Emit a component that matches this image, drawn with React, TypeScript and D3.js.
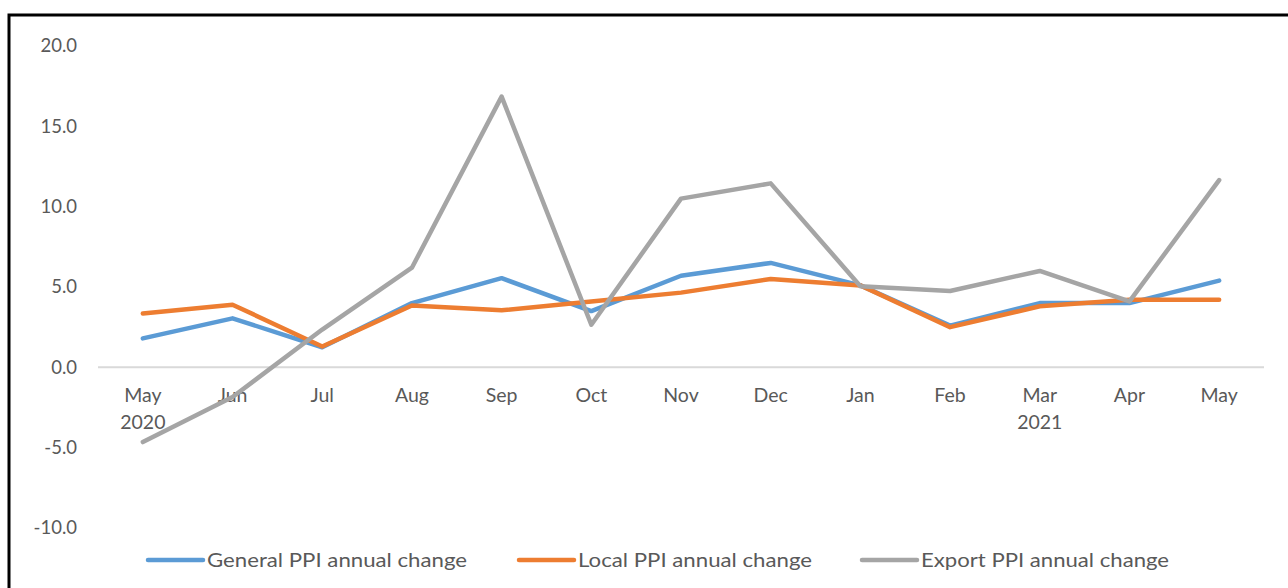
import React, { useEffect, useRef } from "react";
import * as d3 from "d3";

const months = ["May", "Jun", "Jul", "Aug", "Sep", "Oct", "Nov", "Dec", "Jan", "Feb", "Mar", "Apr", "May"];
const years = ["2020", "", "", "", "", "", "", "", "", "", "2021", "", ""];
const yTicks = [-10, -5, 0, 5, 10, 15, 20];

const generalPPI = [1.8, 3.05, 1.25, 4.0, 5.55, 3.5, 5.7, 6.5, 5.1, 2.6, 4.0, 4.0, 5.4];
const localPPI = [3.35, 3.9, 1.3, 3.85, 3.55, 4.1, 4.65, 5.5, 5.1, 2.5, 3.8, 4.2, 4.2];
const exportPPI = [-4.65, -1.85, 2.35, 6.2, 16.85, 2.65, 10.5, 11.45, 5.05, 4.75, 6.0, 4.1, 11.65];

const seriesNames = ["General PPI annual change", "Local PPI annual change", "Export PPI annual change"];
const seriesColors = ["#5b9bd5", "#ed7d31", "#a5a5a5"];

export default function App() {
  const ref = useRef<SVGSVGElement>(null);

  useEffect(() => {
    const svg = d3.select(ref.current);
    svg.selectAll("*").remove();

    const font = "Lato, 'Open Sans', sans-serif";
    const textColor = "#595959";

    // frame (only left and top edges are visible)
    svg.append("path")
      .attr("d", "M9,588 L9,15 L1288,15")
      .attr("fill", "none")
      .attr("stroke", "#000")
      .attr("stroke-width", 3);

    const x = d3.scaleBand<number>()
      .domain(d3.range(months.length))
      .range([98, 1264]);

    const y = d3.scaleLinear().domain([-10, 20]).range([528, 46]);

    // zero line
    svg.append("line")
      .attr("x1", 98).attr("x2", 1264)
      .attr("y1", y(0)).attr("y2", y(0))
      .attr("stroke", "#d9d9d9")
      .attr("stroke-width", 2);

    // y tick labels (plain hyphen for negatives)
    svg.append("g").selectAll("text")
      .data(yTicks)
      .enter()
      .append("text")
      .attr("x", 77)
      .attr("y", d => y(d))
      .attr("dy", "0.35em")
      .attr("text-anchor", "end")
      .attr("font-family", font)
      .attr("font-size", 18.5)
      .attr("fill", textColor)
      .text(d => d.toFixed(1));

    // x labels
    const xl = svg.append("g");
    xl.selectAll("text.m")
      .data(months)
      .enter()
      .append("text")
      .attr("class", "m")
      .attr("x", (d, i) => x(i)! + x.bandwidth() / 2)
      .attr("y", 402)
      .attr("text-anchor", "middle")
      .attr("font-family", font)
      .attr("font-size", 19.5)
      .attr("fill", textColor)
      .text(d => d);
    xl.selectAll("text.yr")
      .data(years)
      .enter()
      .append("text")
      .attr("class", "yr")
      .attr("x", (d, i) => x(i)! + x.bandwidth() / 2)
      .attr("y", 429)
      .attr("text-anchor", "middle")
      .attr("font-family", font)
      .attr("font-size", 19.5)
      .attr("fill", textColor)
      .text(d => d);

    const line = d3.line<number>()
      .x((d, i) => x(i)! + x.bandwidth() / 2)
      .y(d => y(d));

    const allSeries = [generalPPI, localPPI, exportPPI];
    allSeries.forEach((s, k) => {
      svg.append("path")
        .datum(s)
        .attr("d", line)
        .attr("fill", "none")
        .attr("stroke", seriesColors[k])
        .attr("stroke-width", 4.5)
        .attr("stroke-linejoin", "round")
        .attr("stroke-linecap", "round");
    });

    // legend
    const legendX = [148, 519, 862];
    const legendWidths = [260, 234, 248];
    const lg = svg.append("g");
    seriesNames.forEach((name, k) => {
      lg.append("line")
        .attr("x1", legendX[k]).attr("x2", legendX[k] + 55)
        .attr("y1", 560).attr("y2", 560)
        .attr("stroke", seriesColors[k])
        .attr("stroke-width", 4.5)
        .attr("stroke-linecap", "round");
      lg.append("text")
        .attr("x", legendX[k] + 59)
        .attr("y", 560)
        .attr("dy", "0.35em")
        .attr("font-family", font)
        .attr("font-size", 20)
        .attr("fill", textColor)
        .attr("textLength", legendWidths[k])
        .attr("lengthAdjust", "spacingAndGlyphs")
        .text(name);
    });
  }, []);

  return (
    <svg
      ref={ref}
      width={1288}
      height={588}
      style={{ position: "absolute", left: 0, top: 0, background: "#fff" }}
    />
  );
}
